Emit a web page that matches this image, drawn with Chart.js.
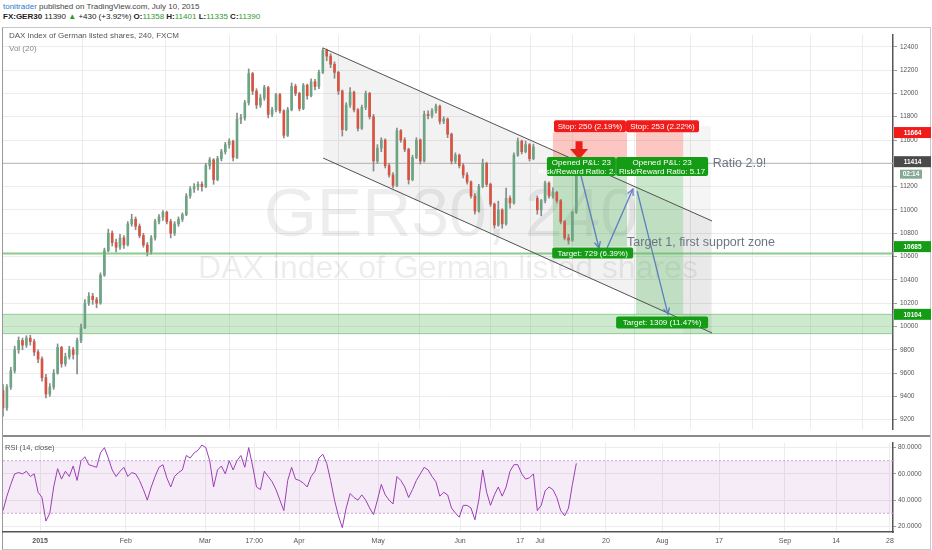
<!DOCTYPE html>
<html>
<head>
<meta charset="utf-8">
<script src="https://cdn.jsdelivr.net/npm/chart.js@4.4.1/dist/chart.umd.min.js"></script>
<style>
  body { margin: 0; width: 932px; height: 550px; background: #fff; position: relative; overflow: hidden;
         font-family: "Liberation Sans", Arial, sans-serif; }
  .abs { position: absolute; white-space: nowrap; }
  #hdr1 { left: 3px; top: 2px; font-size: 8px; color: #444; }
  #hdr1 b { color: #2e7bcf; font-weight: normal; }
  #hdr2 { left: 3px; top: 12px; font-size: 8px; color: #222; }
  #hdr2 .g { color: #2f9a2f; }
  #hdr2 .k { font-weight: bold; }
  #frame { left: 2px; top: 27px; width: 927px; height: 521px; border: 1px solid #c8c8c8; border-left: 1px solid #999; }
  #main { left: 0; top: 28px; }
  #rsi { left: 0; top: 437px; }
  #split { left: 3px; top: 435px; width: 927px; height: 2px; background: #8a8a8a; }
  .leg { font-size: 8px; color: #555; }
</style>
</head>
<body>
<div id="hdr1" class="abs"><b>tonitrader</b> published on TradingView.com, July 10, 2015</div>
<div id="hdr2" class="abs"><span class="k">FX:GER30</span> 11390 <span class="g">&#9650;</span> +430 (+3.92%) <span class="k">O:</span><span class="g">11358</span> <span class="k">H:</span><span class="g">11401</span> <span class="k">L:</span><span class="g">11335</span> <span class="k">C:</span><span class="g">11390</span></div>
<div id="frame" class="abs"></div>
<canvas id="main" class="abs" width="932" height="408"></canvas>
<canvas id="rsi" class="abs" width="932" height="113"></canvas>
<div id="split" class="abs"></div>
<div class="abs leg" style="left:9px;top:31px;">DAX index of German listed shares, 240, FXCM</div>
<div class="abs leg" style="left:9px;top:44px;color:#888;">Vol (20)</div>
<div class="abs leg" style="left:5px;top:443px;font-size:7.5px;">RSI (14, close)</div>

<script>
// one candle per trading day, 15 Dec 2014 .. 10 Jul 2015: [open, high, low, close]
const candles = [
  [9450,9500,9230,9300],[9300,9500,9280,9480],[9480,9650,9460,9620],[9620,9830,9600,9800],
  [9800,9910,9770,9880],[9880,9900,9800,9840],[9840,9920,9820,9900],[9900,9925,9840,9870],
  [9870,9890,9750,9780],[9780,9800,9690,9720],[9720,9740,9530,9560],[9560,9590,9386,9420],
  [9420,9510,9400,9480],[9480,9630,9460,9600],[9600,9850,9590,9820],[9820,9830,9650,9680],
  [9680,9770,9660,9740],[9740,9830,9720,9800],[9800,9820,9720,9760],[9760,9900,9592,9880],
  [9880,10020,9860,9990],[9990,10230,9980,10200],[10200,10290,10180,10260],[10260,10285,10190,10230],
  [10230,10250,10160,10200],[10200,10460,10190,10440],[10440,10672,10430,10650],[10650,10835,10640,10800],
  [10800,10820,10690,10720],[10720,10750,10640,10680],[10680,10790,10660,10760],[10760,10780,10670,10700],
  [10700,10900,10690,10880],[10880,10963,10860,10920],[10920,10940,10830,10860],[10860,10880,10760,10780],
  [10780,10800,10680,10700],[10700,10720,10605,10640],[10640,10780,10620,10760],[10760,10920,10740,10900],
  [10900,10960,10880,10940],[10940,10995,10910,10980],[10980,10990,10880,10900],[10900,10920,10760,10800],
  [10800,10900,10780,10880],[10880,10940,10860,10920],[10920,10975,10900,10960],[10960,11140,10950,11120],
  [11120,11200,11100,11180],[11180,11225,11150,11200],[11200,11240,11170,11220],[11220,11240,11160,11200],
  [11200,11400,11190,11380],[11380,11450,11350,11430],[11430,11440,11220,11260],[11260,11460,11250,11440],
  [11440,11520,11420,11500],[11500,11580,11480,11560],[11560,11610,11530,11590],[11590,11600,11420,11450],
  [11450,11830,11440,11780],[11780,11820,11740,11790],[11790,11940,11770,11920],[11920,12210,11900,12170],
  [12170,12180,11990,12020],[12020,12040,11870,11900],[11900,11990,11880,11960],[11960,12070,11940,12050],
  [12050,12060,11790,11820],[11820,11880,11800,11860],[11860,12000,11840,11990],[11990,12000,11830,11850],
  [11850,11860,11617,11640],[11640,11880,11630,11860],[11860,12090,11850,12060],[12060,12080,11980,12000],
  [12000,12010,11850,11870],[11870,12085,11860,12070],[12070,12080,11950,11980],[11980,12125,11970,12100],
  [12100,12120,12030,12060],[12060,12200,12040,12180],[12180,12390,12170,12370],[12370,12380,12280,12320],
  [12320,12340,12220,12250],[12250,12270,12130,12180],[12180,12190,11990,12020],[12020,12030,11634,11690],
  [11690,11920,11680,11900],[11900,12050,11880,12010],[12010,12020,11840,11860],[11860,11870,11677,11700],
  [11700,11900,11690,11880],[11880,12020,11860,12000],[12000,12010,11780,11800],[11800,11820,11333,11420],
  [11420,11560,11400,11530],[11530,11620,11500,11600],[11600,11610,11360,11380],[11380,11400,11280,11300],
  [11300,11320,11188,11210],[11210,11703,11200,11680],[11680,11690,11580,11600],[11600,11620,11500,11520],
  [11520,11530,11222,11260],[11260,11470,11250,11450],[11450,11620,11440,11600],[11600,11610,11394,11420],
  [11420,11848,11410,11820],[11820,11850,11780,11810],[11810,11870,11790,11850],[11850,11908,11830,11890],
  [11890,11900,11737,11760],[11760,11800,11740,11780],[11780,11790,11620,11650],[11650,11660,11394,11420],
  [11420,11490,11400,11470],[11470,11480,11360,11380],[11380,11400,11274,11300],[11300,11320,11222,11240],
  [11240,11250,11100,11120],[11120,11140,10963,10990],[10990,11220,10980,11200],[11200,11436,11190,11400],
  [11400,11410,11200,11220],[11220,11230,11030,11050],[11050,11060,10843,10870],[10870,11075,10860,11000],
  [11000,11010,10843,10880],[10880,11188,10870,11100],[11100,11120,11016,11060],[11060,11490,11050,11470],
  [11470,11617,11460,11590],[11590,11600,11480,11500],[11500,11591,11490,11560],[11560,11570,11420,11440],
  [11440,11565,11430,11540],[11100,11120,10963,11000],[11000,11090,10950,11080],[11080,11248,11060,11230],
  [11230,11240,11100,11120],[11120,11190,11100,11150],[11150,11160,11060,11080],[11080,11090,10880,10900],
  [10900,10910,10743,10760],[10760,10790,10706,10740],[10740,10990,10730,10980],[10980,11401,10970,11390]
];

// RSI(14, close), one value per candle
const rsi14 = [
  32,43,52,60,61,60,62,58,60,46,42,24,30,50,64,56,62,58,66,55,
  70,73,67,66,65,76,80,72,63,58,62,65,58,61,60,55,48,40,50,58,
  65,67,57,50,58,61,63,74,72,76,78,82,80,70,50,63,66,60,70,63,
  70,74,65,80,66,50,48,62,58,54,48,40,32,55,65,56,55,53,50,58,
  62,72,75,68,55,40,28,19,34,45,42,40,44,40,34,29,40,52,44,40,
  37,58,55,50,42,48,55,60,65,63,58,54,43,46,44,34,30,27,36,36,
  34,25,40,63,46,36,44,50,43,50,62,67,67,60,56,57,60,32,36,47,
  50,48,42,32,28,34,52,68
];

// time axis: position in trading-day slots and label
const tickSlots  = [9.5, 31.5, 51.8, 64.4, 75.9, 96.2, 117.2, 132.6, 137.7, 154.6, 169, 183.6, 200.5, 213.6, 227.4];
const tickLabels = ['2015', 'Feb', 'Mar', '17:00', 'Apr', 'May', 'Jun', '17', 'Jul', '20', 'Aug', '17', 'Sep', '14', '28'];
const priceTicks = [9200, 9400, 9600, 9800, 10000, 10200, 10400, 10600, 10800, 11000, 11200, 11400, 11600, 11800, 12000, 12200, 12400];
const rsiTicks   = [20, 40, 60, 80];

// trade idea levels
const entry = 11414, stop1 = 11664, stop2 = 11667, target1 = 10685, target2 = 10104;
const supportLine = 10625, zoneTop = 10104, zoneBottom = 9938, lastLine = 11400;

const FONT = '"Liberation Sans", Arial, sans-serif';
const upColor = '#6ba583', downColor = '#d75442', wickColor = '#8a8a8a';
const gridColor = '#ececec';
const X_MIN = 0, X_MAX = 228.2;

function setTimeTicks(s) { s.ticks = tickSlots.map(v => ({ value: v })); }

function arrowLine(ctx, x0, y0, x1, y1) {
  ctx.beginPath(); ctx.moveTo(x0, y0); ctx.lineTo(x1, y1); ctx.stroke();
  const a = Math.atan2(y1 - y0, x1 - x0), L = 7;
  ctx.beginPath();
  ctx.moveTo(x1 - L * Math.cos(a - 0.45), y1 - L * Math.sin(a - 0.45));
  ctx.lineTo(x1, y1);
  ctx.lineTo(x1 - L * Math.cos(a + 0.45), y1 - L * Math.sin(a + 0.45));
  ctx.stroke();
}

function tag(ctx, cx, cy, w, h, color, lines) {
  ctx.fillStyle = color;
  ctx.beginPath(); ctx.roundRect(cx - w / 2, cy - h / 2, w, h, 2); ctx.fill();
  ctx.fillStyle = '#fff';
  ctx.font = '8px ' + FONT;
  ctx.textAlign = 'center'; ctx.textBaseline = 'middle';
  const lh = h / lines.length;
  lines.forEach((t, k) => ctx.fillText(t, cx, cy - h / 2 + lh * (k + 0.5) + 0.5));
}

const drawings = {
  id: 'drawings',
  beforeDatasetsDraw(chart) {
    const { ctx, chartArea: a } = chart;
    const X = v => chart.scales.x.getPixelForValue(v);
    const Y = v => chart.scales.y.getPixelForValue(v);
    ctx.save();
    ctx.beginPath(); ctx.rect(a.left, a.top, a.width, a.height); ctx.clip();

    // symbol watermark
    ctx.fillStyle = 'rgba(0,0,0,0.07)';
    ctx.textAlign = 'center'; ctx.textBaseline = 'middle';
    ctx.font = '68px ' + FONT;
    ctx.fillText('GER30, 240', (a.left + a.right) / 2 + 3, Y(10940));
    ctx.font = '32px ' + FONT;
    ctx.fillText('DAX index of German listed shares', (a.left + a.right) / 2, Y(10490));

    // channel fill
    ctx.fillStyle = 'rgba(0,0,0,0.05)';
    ctx.beginPath();
    ctx.moveTo(X(82.1), Y(12389)); ctx.lineTo(X(181.8), Y(10905));
    ctx.lineTo(X(181.8), Y(9944)); ctx.lineTo(X(82.1), Y(11445));
    ctx.closePath(); ctx.fill();

    // position zones
    ctx.fillStyle = 'rgba(244,67,54,0.3)';
    ctx.fillRect(X(141), Y(stop1), X(160) - X(141), Y(entry) - Y(stop1));
    ctx.fillRect(X(162.3), Y(stop2), X(174.4) - X(162.3), Y(entry) - Y(stop2));
    ctx.fillStyle = 'rgba(76,175,80,0.3)';
    ctx.fillRect(X(141), Y(entry), X(160) - X(141), Y(target1) - Y(entry));
    ctx.fillRect(X(162.3), Y(entry), X(174.4) - X(162.3), Y(target2) - Y(entry));
    ctx.fillStyle = 'rgba(0,0,0,0.04)';
    ctx.fillRect(X(174.4), Y(11720), X(181.5) - X(174.4), Y(9935) - Y(11720));

    // support zone
    ctx.fillStyle = 'rgba(76,175,80,0.28)';
    ctx.fillRect(a.left, Y(zoneTop), a.width, Y(zoneBottom) - Y(zoneTop));
    ctx.strokeStyle = 'rgba(76,175,80,0.55)'; ctx.lineWidth = 1;
    ctx.beginPath();
    ctx.moveTo(a.left, Y(zoneTop)); ctx.lineTo(a.right, Y(zoneTop));
    ctx.moveTo(a.left, Y(zoneBottom)); ctx.lineTo(a.right, Y(zoneBottom));
    ctx.stroke();

    // last price line
    ctx.strokeStyle = '#b4b4b4';
    ctx.beginPath(); ctx.moveTo(a.left, Y(lastLine)); ctx.lineTo(a.right, Y(lastLine)); ctx.stroke();
    ctx.restore();
  },
  afterDatasetsDraw(chart) {
    const { ctx, chartArea: a } = chart;
    const X = v => chart.scales.x.getPixelForValue(v);
    const Y = v => chart.scales.y.getPixelForValue(v);
    ctx.save();
    ctx.beginPath(); ctx.rect(a.left, a.top, a.width, a.height); ctx.clip();

    // support line
    ctx.strokeStyle = 'rgba(100,185,100,0.75)'; ctx.lineWidth = 2;
    ctx.beginPath(); ctx.moveTo(a.left, Y(supportLine)); ctx.lineTo(a.right, Y(supportLine)); ctx.stroke();

    // channel lines
    ctx.strokeStyle = '#505050'; ctx.lineWidth = 1;
    ctx.beginPath();
    ctx.moveTo(X(82.1), Y(12389)); ctx.lineTo(X(181.8), Y(10905));
    ctx.moveTo(X(82.1), Y(11445)); ctx.lineTo(X(181.8), Y(9944));
    ctx.stroke();

    // path arrows
    ctx.strokeStyle = '#5b7fc0'; ctx.lineWidth = 1.3;
    arrowLine(ctx, X(147.9), Y(11334), X(152.8), Y(10673));
    arrowLine(ctx, X(154.9), Y(10673), X(161.5), Y(11179));
    arrowLine(ctx, X(162.6), Y(11162), X(170.5), Y(10105));

    // red sell arrow
    const ax = X(147.7), ay0 = Y(11590), ay1 = Y(11432), mid = ay0 + (ay1 - ay0) * 0.42;
    ctx.fillStyle = '#e8201a';
    ctx.beginPath();
    ctx.moveTo(ax - 3.5, ay0); ctx.lineTo(ax + 3.5, ay0); ctx.lineTo(ax + 3.5, mid);
    ctx.lineTo(ax + 9, mid); ctx.lineTo(ax, ay1); ctx.lineTo(ax - 9, mid); ctx.lineTo(ax - 3.5, mid);
    ctx.closePath(); ctx.fill();

    // position labels
    tag(ctx, X(150.5), Y(11717), 72, 12, '#f01c1c', ['Stop: 250 (2.19%)']);
    tag(ctx, X(169.1), Y(11717), 73, 12, '#f01c1c', ['Stop: 253 (2.22%)']);
    tag(ctx, X(148.3), Y(11372), 69, 19, '#149c14', ['Opened P&L: 23', 'Risk/Reward Ratio: 2.92']);
    tag(ctx, X(169.0), Y(11372), 92, 19, '#149c14', ['Opened P&L: 23', 'Risk/Reward Ratio: 5.17']);
    tag(ctx, X(151.2), Y(10630), 81, 11, '#149c14', ['Target: 729 (6.39%)']);
    tag(ctx, X(169.0), Y(10034), 92, 12, '#149c14', ['Target: 1309 (11.47%)']);

    // notes
    ctx.fillStyle = '#6b7785';
    ctx.font = '12.5px ' + FONT;
    ctx.textAlign = 'left'; ctx.textBaseline = 'middle';
    ctx.fillText('Target 1, first support zone', X(160), Y(10716));
    ctx.fillText('Ratio 2.9!', X(182), Y(11394));
    ctx.restore();
  },
  afterDraw(chart) {
    const { ctx, chartArea: a } = chart;
    const Y = v => chart.scales.y.getPixelForValue(v);
    const label = (v, txt, bg, x0, w) => {
      ctx.fillStyle = bg;
      ctx.fillRect(x0, Y(v) - 5.5, w, 11);
      ctx.fillStyle = '#fff';
      ctx.font = 'bold 6.5px ' + FONT;
      ctx.textAlign = 'center'; ctx.textBaseline = 'middle';
      ctx.fillText(txt, x0 + w / 2, Y(v) + 0.5);
    };
    ctx.save();
    label(stop1, '11664', '#f01c1c', a.right + 1, 37);
    label(entry, '11414', '#4a4a4a', a.right + 1, 37);
    ctx.fillStyle = '#86a996';
    ctx.fillRect(a.right + 7, Y(entry) + 8, 22, 9);
    ctx.fillStyle = '#fff'; ctx.font = 'bold 6.5px ' + FONT;
    ctx.fillText('02:14', a.right + 18, Y(entry) + 13);
    label(target1, '10685', '#149c14', a.right + 1, 37);
    label(target2, '10104', '#149c14', a.right + 1, 37);
    ctx.restore();
  }
};

new Chart(document.getElementById('main'), {
  type: 'bar',
  data: {
    datasets: [
      {
        data: candles.map((c, i) => ({ x: i, y: [c[2], c[1]] })),
        backgroundColor: wickColor, barThickness: 1, grouped: false, order: 2
      },
      {
        data: candles.map((c, i) => ({ x: i, y: [c[0], c[3]] })),
        backgroundColor: candles.map(c => c[3] >= c[0] ? upColor : downColor),
        barThickness: 2, minBarLength: 1, grouped: false, order: 1
      }
    ]
  },
  options: {
    responsive: false, animation: false, devicePixelRatio: 1,
    layout: { autoPadding: false, padding: { left: 3, top: 0, right: 0, bottom: 0 } },
    plugins: { legend: { display: false }, tooltip: { enabled: false } },
    scales: {
      x: {
        type: 'linear', min: X_MIN, max: X_MAX, offset: false,
        afterBuildTicks: setTimeTicks,
        afterFit: s => { s.height = 0; },
        grid: { color: gridColor, drawTicks: false },
        border: { display: false },
        ticks: { display: false }
      },
      y: {
        position: 'right', min: 9119, max: 12502,
        afterBuildTicks: s => { s.ticks = priceTicks.map(v => ({ value: v })); },
        afterFit: s => { s.width = 39; },
        grid: { color: gridColor, tickColor: '#999', tickLength: 4 },
        border: { color: '#555', width: 1.5 },
        ticks: { color: '#555', font: { family: FONT, size: 6.5 }, padding: 3, callback: v => String(v) }
      }
    }
  },
  plugins: [drawings]
});

const rsiBand = {
  id: 'rsiBand',
  beforeDatasetsDraw(chart) {
    const { ctx, chartArea: a } = chart;
    const Y = v => chart.scales.y.getPixelForValue(v);
    ctx.save();
    ctx.fillStyle = 'rgba(156,39,176,0.09)';
    ctx.fillRect(a.left, Y(70), a.width, Y(30) - Y(70));
    ctx.strokeStyle = '#c8a2d6'; ctx.lineWidth = 1; ctx.setLineDash([2, 2]);
    ctx.beginPath();
    ctx.moveTo(a.left, Y(70)); ctx.lineTo(a.right, Y(70));
    ctx.moveTo(a.left, Y(30)); ctx.lineTo(a.right, Y(30));
    ctx.stroke();
    ctx.restore();
  }
};

new Chart(document.getElementById('rsi'), {
  type: 'line',
  data: {
    datasets: [{
      data: rsi14.map((v, i) => ({ x: i, y: v })),
      borderColor: '#9b3fb5', borderWidth: 1, pointRadius: 0, tension: 0
    }]
  },
  options: {
    responsive: false, animation: false, devicePixelRatio: 1,
    layout: { autoPadding: false, padding: { left: 3, top: 0, right: 0, bottom: 0 } },
    plugins: { legend: { display: false }, tooltip: { enabled: false } },
    scales: {
      x: {
        type: 'linear', min: X_MIN, max: X_MAX, offset: false,
        afterBuildTicks: setTimeTicks,
        afterFit: s => { s.height = 18; },
        grid: { color: gridColor, drawTicks: false },
        border: { color: '#555', width: 1.5 },
        ticks: {
          autoSkip: false, maxRotation: 0, padding: 5, color: '#555',
          font: ctx => ({ family: FONT, size: 7, weight: ctx.index === 0 ? 'bold' : 'normal' }),
          callback: (v, i) => tickLabels[i]
        }
      },
      y: {
        position: 'right', min: 15.7, max: 83.6,
        afterBuildTicks: s => { s.ticks = rsiTicks.map(v => ({ value: v })); },
        afterFit: s => { s.width = 39; },
        grid: { color: gridColor, tickColor: '#999', tickLength: 3 },
        border: { color: '#555', width: 1.5 },
        ticks: { color: '#555', font: { family: FONT, size: 6.5 }, padding: 2, callback: v => v.toFixed(4) }
      }
    }
  },
  plugins: [rsiBand]
});
</script>
</body>
</html>
